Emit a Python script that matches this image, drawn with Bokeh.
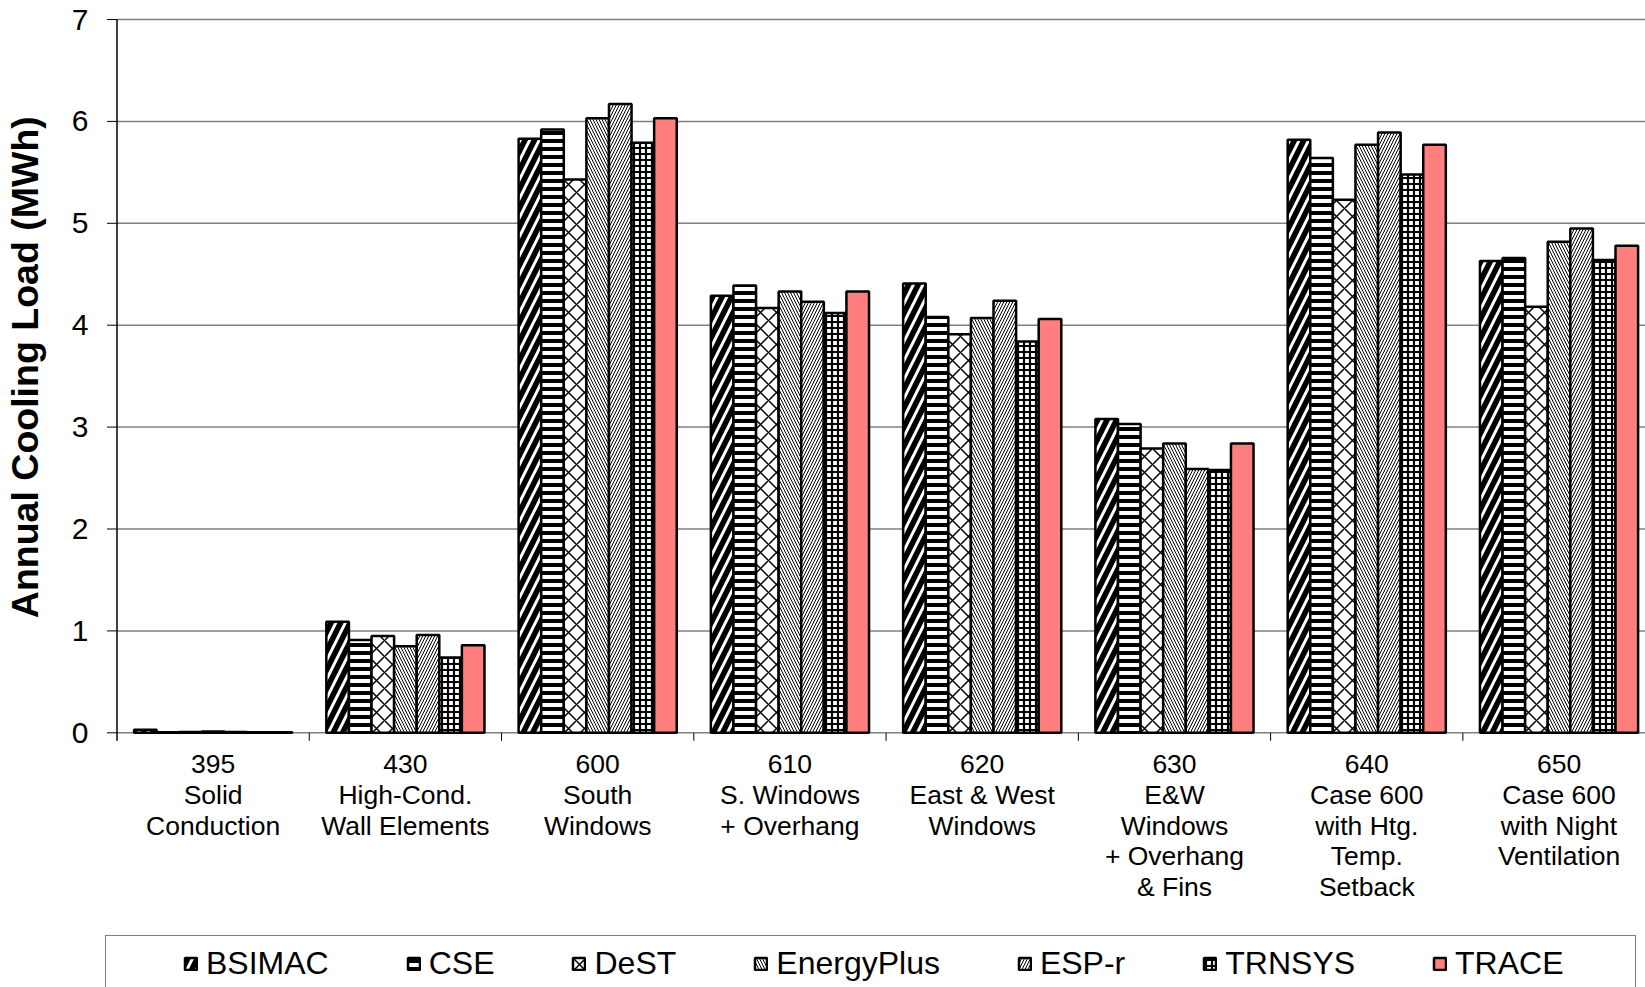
import math
from bokeh.plotting import figure
from bokeh.models import Range1d, Legend, LegendItem
from bokeh.core.properties import value
from bokeh.embed import file_html
from bokeh.resources import INLINE

# ---------------- data ----------------
cases = [
    "395\nSolid\nConduction",
    "430\nHigh-Cond.\nWall Elements",
    "600\nSouth\nWindows",
    "610\nS. Windows\n+ Overhang",
    "620\nEast & West\nWindows",
    "630\nE&W\nWindows\n+ Overhang\n& Fins",
    "640\nCase 600\nwith Htg.\nTemp.\nSetback",
    "650\nCase 600\nwith Night\nVentilation",
]
programs = ["BSIMAC", "CSE", "DeST", "EnergyPlus", "ESP-r", "TRNSYS", "TRACE"]

bsimac     = [0.030, 1.09, 5.83, 4.29, 4.41, 3.08, 5.82, 4.63]
cse        = [0.006, 0.91, 5.92, 4.39, 4.08, 3.03, 5.64, 4.66]
dest       = [0.007, 0.95, 5.43, 4.17, 3.91, 2.79, 5.23, 4.18]
energyplus = [0.012, 0.85, 6.03, 4.33, 4.07, 2.84, 5.77, 4.82]
espr       = [0.007, 0.96, 6.17, 4.23, 4.24, 2.59, 5.89, 4.95]
trnsys     = [0.006, 0.74, 5.79, 4.12, 3.84, 2.58, 5.48, 4.64]
trace      = [0.006, 0.86, 6.03, 4.33, 4.06, 2.84, 5.77, 4.78]
series = [bsimac, cse, dest, energyplus, espr, trnsys, trace]

y_ticks = [0, 1, 2, 3, 4, 5, 6, 7]
y_title = "Annual Cooling Load (MWh)"

# ---------------- layout constants (pixels) ----------------
W, H = 1645, 987
PX_X = 192.27     # pixels per category
PX_Y = 101.9      # pixels per MWh
AX_X = 116.5      # page x of the value axis
AX_Y = 732.3      # page y of value 0
FONT = "Liberation Sans"

n_cat = len(cases)
bar_w = 0.1175

styles = [
    dict(fill_color="white", hatch_pattern="/", hatch_scale=19, hatch_weight=5.5, hatch_color="black"),
    dict(fill_color="white", hatch_pattern="-", hatch_scale=8, hatch_weight=4, hatch_color="black"),
    dict(fill_color="white", hatch_pattern="x", hatch_scale=16, hatch_weight=1.5, hatch_color="black"),
    dict(fill_color="white", hatch_pattern="\\", hatch_scale=6, hatch_weight=1.0, hatch_color="black"),
    dict(fill_color="white", hatch_pattern="/", hatch_scale=6, hatch_weight=1.0, hatch_color="black"),
    dict(fill_color="white", hatch_pattern="+", hatch_scale=6, hatch_weight=2.2, hatch_color="black"),
    dict(fill_color="#FF7F7F"),
]

x_start = -AX_X / PX_X
x_end = (W - AX_X) / PX_X
y_end = AX_Y / PX_Y
y_start = -(H - AX_Y) / PX_Y

p = figure(width=W, height=H,
           x_range=Range1d(x_start, x_end), y_range=Range1d(y_start, y_end),
           toolbar_location=None, output_backend="svg",
           x_axis_location=None, y_axis_location=None,
           min_border=0, min_border_left=0, min_border_right=0,
           min_border_top=0, min_border_bottom=0)
p.outline_line_color = None
p.grid.visible = False
p.background_fill_color = "white"
p.border_fill_color = "white"

# grid lines (value 0 line doubles as the category axis line)
p.segment(x0=[0] * len(y_ticks), y0=y_ticks, x1=[x_end] * len(y_ticks), y1=y_ticks,
          line_color="#808080", line_width=1.5)

# bars
renderers = []
for j, (name, vals) in enumerate(zip(programs, series)):
    xs = [i + 0.5 + (j - 3) * bar_w for i in range(n_cat)]
    r = p.vbar(x=xs, top=vals, bottom=0, width=bar_w,
               line_color="black", line_width=2.5, **styles[j])
    renderers.append(r)

# value axis line and ticks
tick_y = 8 / PX_Y
tick_x = 10 / PX_X
p.segment(x0=[0], y0=[-tick_y], x1=[0], y1=[max(y_ticks)], line_color="black", line_width=1.5)
p.segment(x0=[-tick_x] * len(y_ticks), y0=y_ticks, x1=[0] * len(y_ticks), y1=y_ticks,
          line_color="black", line_width=1)
# category separators
bounds = list(range(1, n_cat))
p.segment(x0=bounds, y0=[0] * len(bounds), x1=bounds, y1=[-tick_y] * len(bounds),
          line_color="black", line_width=1)

# value tick labels
p.text(x=[(88 - AX_X) / PX_X] * len(y_ticks), y=y_ticks, text=[str(t) for t in y_ticks],
       text_align="right", text_baseline="middle", text_color="black",
       text_font=value(FONT), text_font_size=value("30px"))

# axis title
p.text(x=[(24 - AX_X) / PX_X], y=[(AX_Y - 366.7) / PX_Y], text=[y_title],
       angle=math.pi / 2, text_align="center", text_baseline="middle",
       text_color="black", text_font=value(FONT), text_font_size=value("37.5px"),
       text_font_style="bold")

# category labels
p.text(x=[i + 0.5 for i in range(n_cat)], y=[0] * n_cat, text=cases,
       y_offset=16, text_align="center", text_baseline="top", text_line_height=1.03,
       text_color="black", text_font=value(FONT), text_font_size=value("26.5px"))

# ---------------- legend ----------------
common = dict(orientation="horizontal", label_text_font=FONT, label_text_font_size="32px",
              label_text_color="black", padding=7, margin=0, label_height=37,
              glyph_width=15, glyph_height=15, label_standoff=8)

blank = p.vbar(x=[x_start - 5], top=[1.0], width=0.1, fill_alpha=0, line_alpha=0)
box = Legend(items=[LegendItem(label=" ", renderers=[blank])],
             location=(105, -1), label_width=1492,
             border_line_color="black", border_line_width=1.5,
             background_fill_color="white", background_fill_alpha=1, **common)
p.add_layout(box, "center")

legend = Legend(items=[LegendItem(label=n, renderers=[r]) for n, r in zip(programs, renderers)],
                location=(183, 5), spacing=77,
                border_line_color=None, background_fill_alpha=0, **common)
p.add_layout(legend, "center")

open("out.html", "w").write(file_html(p, INLINE))
